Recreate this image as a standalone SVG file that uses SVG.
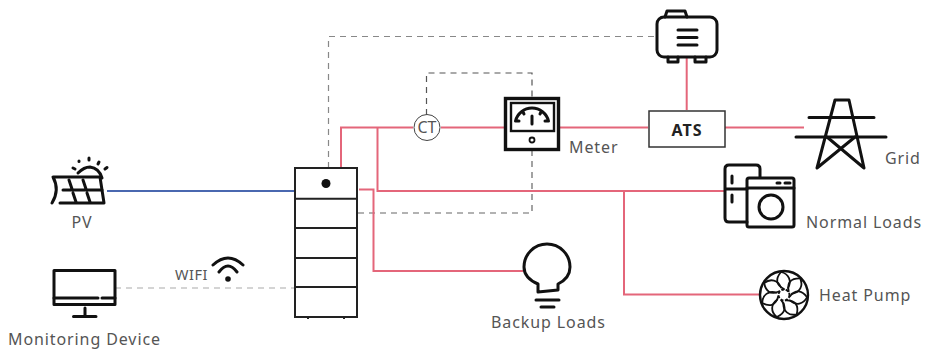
<svg xmlns="http://www.w3.org/2000/svg" width="925" height="350" viewBox="0 0 925 350">
<style>
.t{font-family:"Noto Sans","Open Sans",sans-serif;font-size:16px;fill:#555;letter-spacing:.9px}
.r{fill:none;stroke:#e4667a;stroke-width:2}
.d{fill:none;stroke:#888;stroke-width:1.200;stroke-dasharray:6 5}
.k{fill:none;stroke:#111;stroke-width:3;stroke-linejoin:round;stroke-linecap:round}
.s{fill:none;stroke:#222;stroke-width:2}
.b{fill:none;stroke:#111;stroke-width:1.800;stroke-linecap:round}
</style>
<defs>
<path id="blade" class="b" d="M0 -6C-8 -10 -9 -16 -3 -23C5 -21 8 -14 4 -7"/>
</defs>
<rect width="925" height="350" fill="#fff"/>
<g id="connectors">
<path class="d" d="M328.500 168V36.500H656"/>
<path class="d" style="stroke:#555" d="M426.500 115V73H532V98"/>
<path class="d" style="stroke:#666" d="M532 150V213H357"/>
<path class="d" style="stroke:#aaa" d="M115 288H295"/>
<path class="r" d="M341 168V127.500H413M441 127.500H505M559 127.500H648M725 127.500H804"/>
<path class="r" d="M377.500 127.500V191H724M624 191V294.500H760"/>
<path class="r" d="M359 189.500H373.500V271H523"/>
<path class="r" d="M686.700 57V110"/>
<path fill="none" stroke="#4a68b0" stroke-width="2" d="M107 191H295"/>
</g>
<g id="pv">
<path class="k" stroke-width="2.400" d="M53 177H100L104 203H60M53 177Q60 190 52 203"/>
<path class="k" stroke-width="2.200" d="M63 190H102M69 180L72 189M83 180L86 189M73 193L76 202M87 193L90 202"/>
<path class="k" stroke-width="2.200" d="M78 173Q84 167 90 167Q99 168 102 178M79 161V161.500M89 158V160M99 162L98 164M107 167.500L105 169M73 168L75 169"/>
<text class="t" x="82" y="228" text-anchor="middle">PV</text>
</g>
<g id="monitoring-device">
<rect class="k" x="54" y="270.500" width="61" height="34" stroke-width="2.600"/>
<path class="k" stroke-width="2.600" d="M54 298H98M102 298H115M85 308V316M73.500 316.500H96"/>
<text class="t" x="8" y="345">Monitoring Device</text>
</g>
<g id="wifi">
<text class="t" x="175" y="280" style="font-size:14.500px;letter-spacing:.5px">WIFI</text>
<path class="k" d="M213 265Q228 251 243 265M219 272Q228 260 237 272"/>
<circle cx="228" cy="279" r="2.800" fill="#111"/>
</g>
<g id="battery">
<rect x="295" y="168" width="62" height="149" fill="#fff" stroke="#222" stroke-width="2"/>
<path class="s" d="M295 198.700H357M295 228H357M295 258H357M295 287H357"/>
<path class="s" d="M308 317V319M344 317V319"/>
<circle cx="326" cy="183.500" r="4.500" fill="#111"/>
</g>
<g id="ct">
<circle cx="427" cy="127.500" r="13" fill="#fff" stroke="#444"/>
<text x="427" y="133" text-anchor="middle" style="font-family:'Noto Sans',sans-serif;font-size:16px;fill:#555">CT</text>
</g>
<g id="meter">
<rect x="505.500" y="98.500" width="53" height="51" fill="#fff" stroke="#111" stroke-width="3.400"/>
<rect x="511" y="103" width="43" height="28" fill="none" stroke="#111" stroke-width="2.400"/>
<path class="k" stroke-width="3.400" d="M515.500 121A17 17 0 0 1 548.500 121M532 116V124M515.500 121H519M545 121H548.500M523 112L524 114M541 112L540 114"/>
<circle cx="532" cy="140" r="2.500" fill="none" stroke="#111" stroke-width="1.800"/>
<text class="t" x="569" y="153">Meter</text>
</g>
<g id="generator">
<path class="k" d="M665 17L667 11H685L687 17"/>
<rect class="k" x="657" y="17" width="60" height="40" rx="7"/>
<path class="k" d="M668 57V62H678V57M695 57V62H706V57"/>
<path class="k" d="M678 30H697M678 37.500H697M678 45H697"/>
</g>
<g id="ats">
<rect x="649" y="111" width="76" height="36" fill="#fff" stroke="#333" stroke-width="1.500"/>
<text x="687" y="135.500" text-anchor="middle" style="font-family:'Noto Sans',sans-serif;font-size:16px;font-weight:700;fill:#222;letter-spacing:1px">ATS</text>
</g>
<g id="grid">
<path class="k" d="M817 168L835 100H849L864 168M817 168L855 137M864 168L827 137"/>
<path class="k" d="M809 117.500H874M796 137H886"/>
<text class="t" x="885" y="164">Grid</text>
</g>
<g id="normal-loads">
<path class="k" d="M747 222H729Q725 222 725 218V169Q725 165 729 165H756Q760 165 760 169V177M725 189H747M732 176V183M732 195V202"/>
<rect class="k" x="747" y="178" width="47" height="49" rx="2"/>
<path class="k" stroke-width="2.400" d="M747 188H794M777 183H780M785 183H790"/>
<circle cx="771" cy="207" r="12" fill="none" stroke="#111" stroke-width="3"/>
<text class="t" x="806" y="228">Normal Loads</text>
</g>
<g id="heat-pump">
<circle cx="784" cy="295" r="24" fill="#fff" stroke="#111" stroke-width="2.400"/>
<circle cx="784" cy="295" r="5.500" fill="none" stroke="#111" stroke-width="2" stroke-dasharray="3 1.500"/>
<g transform="translate(784 295)">
<use href="#blade"/>
<use href="#blade" transform="rotate(51.400)"/>
<use href="#blade" transform="rotate(102.900)"/>
<use href="#blade" transform="rotate(154.300)"/>
<use href="#blade" transform="rotate(205.700)"/>
<use href="#blade" transform="rotate(257.100)"/>
<use href="#blade" transform="rotate(308.600)"/>
</g>
<text class="t" x="819" y="301">Heat Pump</text>
</g>
<g id="backup-loads">
<path class="k" d="M538 292V284Q524 278 524 267A23 23 0 1 1 570 267Q570 278 558 284V290Z"/>
<path class="k" d="M536 300H559M541 307H554"/>
<text class="t" x="491" y="328">Backup Loads</text>
</g>
</svg>
